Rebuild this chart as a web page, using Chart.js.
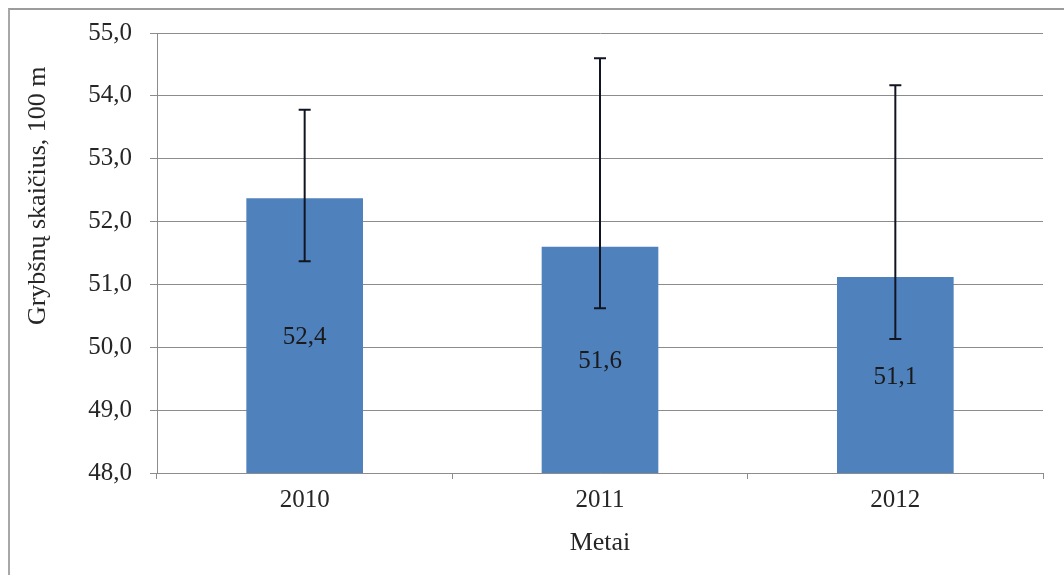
<!DOCTYPE html>
<html>
<head>
<meta charset="utf-8">
<script src="https://cdn.jsdelivr.net/npm/chart.js@4/dist/chart.umd.min.js"></script>
<style>
  body { margin: 0; background: #fff; }
  #wrap { position: relative; width: 1064px; height: 575px; overflow: hidden; }
  #frame { position: absolute; left: 8px; top: 8px; width: 1100px; height: 620px;
           border-top: 2px solid #9c9c9c; border-left: 2px solid #a8a8a8; pointer-events: none; }
</style>
</head>
<body>
<div id="wrap">
  <canvas id="myChart" width="1064" height="575"></canvas>
  <div id="frame"></div>
</div>
<script>
const years = ['2010', '2011', '2012'];
const means = [52.37, 51.6, 51.12];
const errLow = [51.37, 50.62, 50.13];
const errHigh = [53.78, 54.6, 54.17];
const yTicks = [48, 49, 50, 51, 52, 53, 54, 55];

const fmt = v => v.toFixed(1).replace('.', ',');
const serif = 'Liberation Serif';

const errorBars = {
  id: 'errorBars',
  afterDatasetsDraw(chart) {
    const ctx = chart.ctx;
    const y = chart.scales.y;
    const meta = chart.getDatasetMeta(0);
    const base = y.getPixelForValue(y.min);
    ctx.save();
    ctx.strokeStyle = '#111522';
    ctx.lineWidth = 2;
    meta.data.forEach((bar, i) => {
      const top = y.getPixelForValue(errHigh[i]);
      const bot = y.getPixelForValue(errLow[i]);
      ctx.beginPath();
      ctx.moveTo(bar.x, top);
      ctx.lineTo(bar.x, bot);
      ctx.moveTo(bar.x - 6, top);
      ctx.lineTo(bar.x + 6, top);
      ctx.moveTo(bar.x - 6, bot);
      ctx.lineTo(bar.x + 6, bot);
      ctx.stroke();
    });
    // value labels in the middle of each bar
    ctx.fillStyle = '#1a1a1a';
    ctx.font = '25px ' + serif;
    ctx.textAlign = 'center';
    ctx.textBaseline = 'middle';
    meta.data.forEach((bar, i) => {
      const top = y.getPixelForValue(means[i]);
      ctx.fillText(fmt(means[i]), bar.x, (top + base) / 2 + 2);
    });
    ctx.restore();
  }
};

const yTitle = {
  id: 'yTitle',
  afterDraw(chart) {
    const ctx = chart.ctx;
    const a = chart.chartArea;
    ctx.save();
    ctx.translate(38, a.top + a.height * 0.37);
    ctx.rotate(-Math.PI / 2);
    ctx.fillStyle = '#262626';
    ctx.font = '26px ' + serif;
    ctx.textAlign = 'center';
    ctx.textBaseline = 'middle';
    ctx.fillText('Grybšnų skaičius, 100 m', 0, 0);
    ctx.restore();
  }
};

const config = {
  type: 'bar',
  data: {
    labels: years,
    datasets: [{
      label: 'Grybšnų skaičius',
      data: means,
      backgroundColor: '#4F81BD',
      borderWidth: 0,
      barPercentage: 0.79,
      categoryPercentage: 0.5
    }]
  },
  options: {
    responsive: false,
    animation: false,
    devicePixelRatio: 1,
    layout: { padding: { top: 33, right: 21, left: 0, bottom: 0 } },
    plugins: {
      legend: { display: false },
      tooltip: { enabled: false }
    },
    scales: {
      x: {
        offset: true,
        grid: {
          offset: true,
          drawOnChartArea: false,
          drawTicks: true,
          tickLength: 6,
          color: '#8c8c8c'
        },
        border: { color: '#8c8c8c', width: 1 },
        ticks: {
          padding: 6,
          color: '#262626',
          font: { family: serif, size: 25 }
        },
        title: {
          display: true,
          text: 'Metai',
          color: '#262626',
          font: { family: serif, size: 26 },
          padding: { top: 0, bottom: 16 }
        },
        afterFit(scale) { scale.height = 102; }
      },
      y: {
        min: 48,
        max: 55,
        afterBuildTicks(scale) { scale.ticks = yTicks.map(v => ({ value: v })); },
        grid: {
          color: '#8c8c8c',
          tickLength: 7,
          lineWidth: 1
        },
        border: { color: '#8c8c8c', width: 1 },
        ticks: {
          padding: 18,
          color: '#262626',
          font: { family: serif, size: 25 },
          callback: v => fmt(v)
        },
        afterFit(scale) { scale.width = 157; }
      }
    }
  },
  plugins: [errorBars, yTitle]
};

const myChart = new Chart(document.getElementById('myChart'), config);
</script>
</body>
</html>
